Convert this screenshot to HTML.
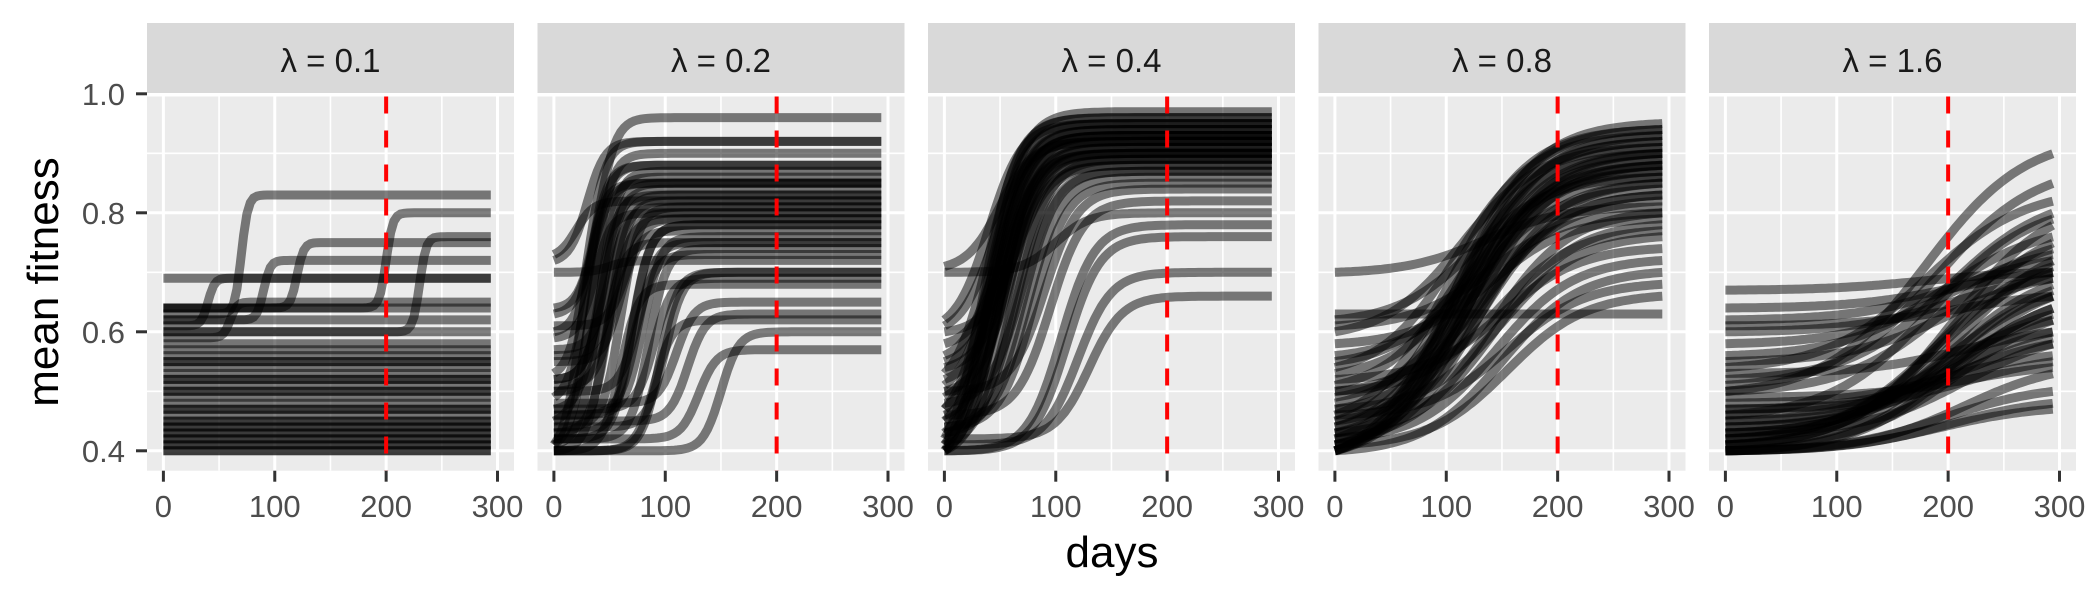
<!DOCTYPE html>
<html><head><meta charset="utf-8"><style>
html,body{margin:0;padding:0;background:#fff}
svg{display:block;font-family:"Liberation Sans",sans-serif}
</style></head><body>
<svg id="chart" width="2100" height="600" viewBox="0 0 2100 600">
<text x="58" y="282" transform="rotate(-90 58 282)" text-anchor="middle" font-size="44" fill="#000">mean fitness</text>
<text x="1112" y="567" text-anchor="middle" font-size="44" fill="#000">days</text>
<g id="panels"></g>
</svg>
<script>
const panelLabels = ["λ = 0.1","λ = 0.2","λ = 0.4","λ = 0.8","λ = 1.6"];
const xTicks = [0,100,200,300];
const yTicks = [0.4,0.6,0.8,1.0];
const yTickLabels = ["0.4","0.6","0.8","1.0"];
const cutoffDay = 200;
const lastDay = 295;
const steepness = [3,8,15,35,45];
const starts1 = [0.40,0.40,0.41,0.41,0.42,0.42,0.43,0.43,0.44,0.45,0.45,0.46,0.47,0.48,0.49,0.50,0.50,0.51,0.52,0.53,0.54,0.55,0.56,0.57,0.58,0.59,0.60,0.61,0.62,0.63,0.64,0.64,0.69,0.44,0.47,0.52,0.55,0.60,0.62,0.64];
const ends1   = [0.40,0.40,0.41,0.41,0.42,0.42,0.43,0.43,0.44,0.45,0.45,0.46,0.47,0.48,0.49,0.50,0.50,0.51,0.52,0.53,0.54,0.55,0.56,0.57,0.58,0.65,0.76,0.69,0.72,0.83,0.80,0.75,0.69,0.44,0.47,0.52,0.55,0.60,0.62,0.64];
const mids1   = [150,150,150,150,150,150,150,150,150,150,150,150,150,150,150,150,150,150,150,150,150,150,150,150,150,60,230,40,90,70,200,120,40,150,150,150,150,150,150,150];
const starts2 = [0.40,0.40,0.40,0.41,0.41,0.42,0.42,0.43,0.44,0.45,0.46,0.47,0.48,0.49,0.50,0.51,0.52,0.53,0.55,0.57,0.59,0.61,0.63,0.73,0.72,0.70,0.64,0.45,0.42,0.40,0.41,0.43,0.47,0.50,0.40,0.44,0.46,0.52,0.56,0.60];
const ends2   = [0.62,0.68,0.75,0.80,0.85,0.57,0.78,0.82,0.70,0.90,0.76,0.83,0.65,0.88,0.73,0.80,0.84,0.92,0.77,0.81,0.86,0.79,0.85,0.82,0.92,0.72,0.96,0.63,0.74,0.70,0.87,0.78,0.69,0.83,0.60,0.81,0.75,0.85,0.79,0.88];
const mids2   = [90,60,45,30,25,130,70,50,100,35,80,40,110,30,75,55,45,30,60,50,40,65,35,20,30,50,40,120,85,95,40,70,90,50,150,60,75,45,55,35];
const starts3 = [0.40,0.40,0.40,0.41,0.41,0.42,0.42,0.43,0.43,0.44,0.45,0.46,0.47,0.48,0.49,0.50,0.51,0.52,0.53,0.54,0.56,0.58,0.60,0.62,0.71,0.70,0.40,0.41,0.42,0.44,0.45,0.47,0.50,0.40,0.41,0.43,0.46,0.55,0.40,0.61];
const ends3   = [0.92,0.95,0.90,0.93,0.88,0.96,0.91,0.94,0.89,0.86,0.93,0.90,0.95,0.87,0.92,0.84,0.94,0.91,0.96,0.89,0.93,0.90,0.88,0.95,0.92,0.80,0.76,0.70,0.66,0.85,0.91,0.94,0.89,0.93,0.97,0.87,0.82,0.90,0.78,0.92];
const mids3   = [50,40,55,45,60,35,50,45,65,75,45,55,40,70,50,90,45,55,40,60,50,55,65,40,50,100,110,120,130,80,55,45,60,50,40,70,95,55,105,45];
const starts4 = [0.40,0.40,0.40,0.41,0.41,0.42,0.42,0.43,0.43,0.44,0.45,0.46,0.47,0.48,0.49,0.50,0.51,0.52,0.53,0.54,0.56,0.58,0.60,0.62,0.63,0.70,0.40,0.41,0.42,0.44,0.45,0.47,0.50,0.40,0.41,0.43,0.46,0.55,0.40,0.61];
const ends4   = [0.95,0.93,0.90,0.88,0.85,0.92,0.80,0.87,0.78,0.91,0.83,0.94,0.76,0.89,0.86,0.82,0.90,0.74,0.88,0.93,0.84,0.79,0.91,0.86,0.63,0.81,0.70,0.66,0.72,0.88,0.92,0.85,0.77,0.94,0.89,0.83,0.68,0.87,0.90,0.80];
const mids4   = [110,115,120,125,130,110,140,120,145,115,130,105,150,120,125,135,115,150,125,110,130,140,115,125,60,135,150,155,145,120,110,130,145,105,120,130,155,125,115,140];
const starts5 = [0.40,0.40,0.40,0.41,0.41,0.42,0.42,0.43,0.43,0.44,0.45,0.46,0.47,0.48,0.49,0.50,0.51,0.52,0.53,0.54,0.56,0.58,0.60,0.62,0.67,0.64,0.40,0.41,0.42,0.44,0.45,0.47,0.50,0.40,0.41,0.43,0.46,0.55,0.40,0.61];
const ends5   = [0.47,0.48,0.50,0.78,0.75,0.72,0.70,0.68,0.66,0.64,0.62,0.60,0.58,0.56,0.54,0.90,0.85,0.80,0.60,0.82,0.76,0.73,0.69,0.72,0.70,0.70,0.53,0.67,0.71,0.63,0.59,0.55,0.74,0.66,0.62,0.58,0.79,0.69,0.64,0.66];
const mids5   = [190,200,195,205,200,210,190,205,200,215,195,205,210,200,215,180,190,200,215,180,195,200,205,210,180,205,215,200,190,205,210,215,195,205,210,215,185,200,205,210];
const panelStarts = [starts1,starts2,starts3,starts4,starts5];
const panelEnds = [ends1,ends2,ends3,ends4,ends5];
const panelMids = [mids1,mids2,mids3,mids4,mids5];

const NS = "http://www.w3.org/2000/svg";
const PX0 = 147, PW = 367, PSTEP = 390.5, PTOP = 96.5, PBOT = 470.7;
function xScale(p, t){ return PX0 + p*PSTEP + 16.4 + t*1.1137; }
function yScale(v){ return 450.8 - (v-0.4)*595; }
function mk(tag, attrs, parent){ const e=document.createElementNS(NS,tag); for(const k in attrs) e.setAttribute(k,attrs[k]); parent.appendChild(e); return e; }
const root = document.getElementById('panels');
const defs = mk('defs',{},root);
for(let p=0;p<5;p++){
  const x0 = PX0 + p*PSTEP;
  const g = mk('g',{},root);
  
  
  const cp = mk('clipPath',{id:'clip'+p},defs);
  mk('rect',{x:x0,y:PTOP,width:PW,height:PBOT-PTOP},cp);
  const strip = mk('rect',{x:x0,y:23,width:PW,height:70,fill:'#d9d9d9'},g);
  
  
  const st = mk('text',{x:x0+PW/2,y:72,'text-anchor':'middle','font-size':33,fill:'#1a1a1a'},g);
  st.textContent = panelLabels[p];
  
  
  const bg = mk('rect',{x:x0,y:PTOP,width:PW,height:PBOT-PTOP,fill:'#ebebeb'},g);
  
  
  const grid = mk('g',{'clip-path':'url(#clip'+p+')'},g);
  [0.5,0.7,0.9].forEach(v=>mk('line',{x1:x0,x2:x0+PW,y1:yScale(v),y2:yScale(v),stroke:'#fff','stroke-width':1.6},grid));
  [50,150,250].forEach(t=>mk('line',{x1:xScale(p,t),x2:xScale(p,t),y1:PTOP,y2:PBOT,stroke:'#fff','stroke-width':1.6},grid));
  yTicks.forEach(v=>mk('line',{x1:x0,x2:x0+PW,y1:yScale(v),y2:yScale(v),stroke:'#fff','stroke-width':3},grid));
  xTicks.forEach(t=>mk('line',{x1:xScale(p,t),x2:xScale(p,t),y1:PTOP,y2:PBOT,stroke:'#fff','stroke-width':3},grid));
  const lines = mk('g',{'clip-path':'url(#clip'+p+')'},g);
  
  
  const S = panelStarts[p], E = panelEnds[p], M = panelMids[p], k = steepness[p];
  for(let i=0;i<S.length;i++){
    const sig = t=>1/(1+Math.exp(-(t-M[i])/k));
    const s0=sig(0), s1=sig(lastDay);
    let d='';
    for(let t=0;t<=lastDay;t+=3){
      const f=(sig(t)-s0)/(s1-s0);
      const v=S[i]+(E[i]-S[i])*f;
      d+=(t?'L':'M')+xScale(p,t).toFixed(1)+' '+yScale(v).toFixed(1);
    }
    const path = mk('path',{d:d,fill:'none',stroke:'#000','stroke-opacity':0.5,'stroke-width':9},lines);
    
    
  }
  const cut = mk('line',{x1:xScale(p,cutoffDay),x2:xScale(p,cutoffDay),y1:PTOP,y2:PBOT,stroke:'#ff0000','stroke-width':4,'stroke-dasharray':'17 17'},g);
  
  
  xTicks.forEach(t=>{
    mk('line',{x1:xScale(p,t),x2:xScale(p,t),y1:PBOT,y2:PBOT+11,stroke:'#333','stroke-width':3},g);
    const tl = mk('text',{x:xScale(p,t),y:517,'text-anchor':'middle','font-size':31,fill:'#4d4d4d'},g);
    tl.textContent = String(t);
    
    
  });
  if(p===0){
    yTicks.forEach((v,j)=>{
      mk('line',{x1:x0-11,x2:x0,y1:yScale(v),y2:yScale(v),stroke:'#333','stroke-width':3},g);
      const yl = mk('text',{x:125,y:yScale(v)+11,'text-anchor':'end','font-size':31,fill:'#4d4d4d'},g);
      yl.textContent = yTickLabels[j];
      
      
    });
  }
}
</script>
</body></html>
